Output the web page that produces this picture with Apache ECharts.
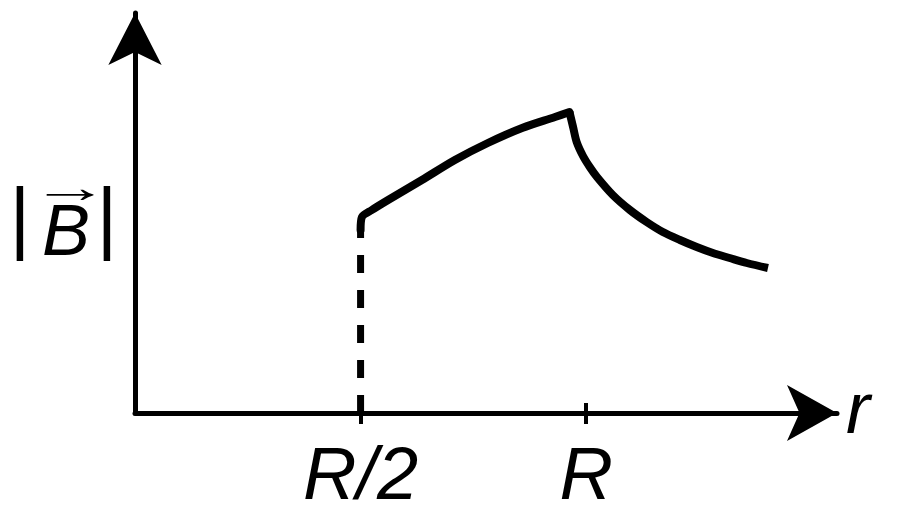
<!DOCTYPE html>
<html>
<head>
<meta charset="utf-8" />
<title>|B| against r</title>
<script src="https://cdn.jsdelivr.net/npm/echarts@6.0.0/dist/echarts.min.js"></script>
</head>
<body style="margin:0;background:#fff;">
<div id="chart" style="width:900px;height:522px;"></div>
<script>
// r in units of R, |B| in arbitrary units
var tickValues = [0.5, 1];
var tickLabels = ['R/2', 'R'];

var riseX = [0.5, 0.503, 0.525, 0.561, 0.636, 0.709, 0.782, 0.858, 0.931, 0.963];
var riseY = [183, 196, 203, 213, 233, 253, 270, 285, 296, 301];

var fallX = [0.963, 0.971, 0.979, 0.993, 1.008, 1.024, 1.059, 1.097, 1.134, 1.170, 1.208, 1.245, 1.281, 1.318, 1.356, 1.403];
var fallY = [301, 286, 271, 257, 246, 236, 218, 203, 191, 181, 173, 166, 160, 155, 150, 145];

var dashX = [0.5, 0.5];
var dashY = [0, 183];

function pairs(xs, ys) {
	return xs.map(function (x, i) { return [x, ys[i]]; });
}

var font = '"Liberation Sans", Arial, sans-serif';
var chart = echarts.init(document.getElementById('chart'), null, { renderer: 'canvas' });

var option = {
	animation: false,
	backgroundColor: '#fff',
	grid: { left: 135, right: 63, top: 13, bottom: 109 },
	xAxis: [
		{
			type: 'value', min: 0, max: 1.556,
			name: 'r', nameLocation: 'end', nameGap: 9,
			nameTextStyle: { fontFamily: font, fontStyle: 'italic', fontSize: 72, color: '#000', verticalAlign: 'middle' },
			axisLine: {
				show: true, onZero: false,
				symbol: ['none', 'arrow'], symbolSize: [42, 50],
				lineStyle: { color: '#000', width: 5 }
			},
			axisTick: { show: true, customValues: tickValues, length: 11, lineStyle: { color: '#000', width: 4 } },
			axisLabel: {
				show: true, customValues: tickValues, margin: 28,
				formatter: function (v) { return tickLabels[tickValues.indexOf(v)]; },
				fontFamily: font, fontStyle: 'italic', fontSize: 74, color: '#000'
			},
			splitLine: { show: false }
		},
		{
			type: 'value', min: 0, max: 1.556, position: 'bottom',
			axisLine: { show: false },
			axisTick: { show: true, inside: true, customValues: tickValues, length: 10, lineStyle: { color: '#000', width: 4 } },
			axisLabel: { show: false },
			splitLine: { show: false }
		}
	],
	yAxis: {
		type: 'value', min: 0, max: 400,
		axisLine: {
			show: true, onZero: false,
			symbol: ['none', 'arrow'], symbolSize: [40, 52],
			lineStyle: { color: '#000', width: 5 }
		},
		axisTick: { show: false },
		axisLabel: { show: false },
		splitLine: { show: false }
	},
	graphic: [
		{ type: 'text', style: { text: '|', x: 20, y: 222, fill: '#000', font: '80px ' + font, textAlign: 'center', textVerticalAlign: 'middle' } },
		{ type: 'text', style: { text: 'B', x: 42, y: 235, fill: '#000', font: 'italic 72px ' + font, textAlign: 'left', textVerticalAlign: 'middle' } },
		{ type: 'text', x: 70, y: 190, scaleX: 1.8, style: { text: '→', x: 0, y: 0, fill: '#000', font: '44px ' + font, textAlign: 'center', textVerticalAlign: 'middle' } },
		{ type: 'text', style: { text: '|', x: 107, y: 222, fill: '#000', font: '80px ' + font, textAlign: 'center', textVerticalAlign: 'middle' } }
	],
	series: [
		{
			type: 'line', data: pairs(dashX, dashY), showSymbol: false,
			lineStyle: { color: '#000', width: 7, type: [18, 17], cap: 'butt' }
		},
		{
			type: 'line', data: pairs(riseX, riseY), showSymbol: false, smooth: 0.3,
			lineStyle: { color: '#000', width: 8, cap: 'round', join: 'round' }
		},
		{
			type: 'line', data: pairs(fallX, fallY), showSymbol: false, smooth: 0.3,
			lineStyle: { color: '#000', width: 8, cap: 'butt', join: 'round' }
		}
	]
};
chart.setOption(option);
window.addEventListener('resize', chart.resize);
</script>
</body>
</html>
